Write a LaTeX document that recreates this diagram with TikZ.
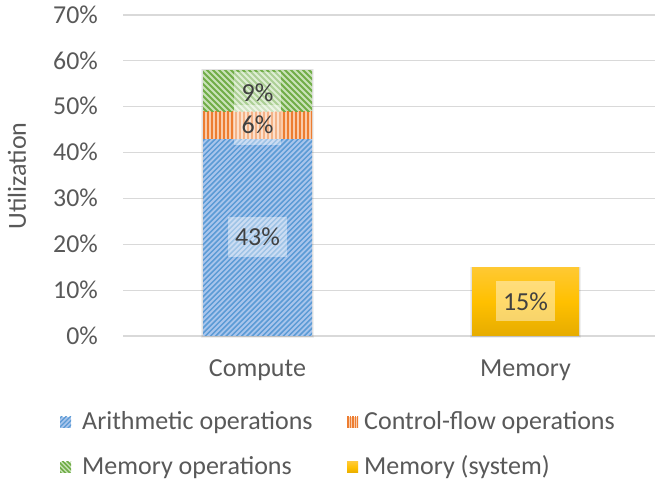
\documentclass[tikz,border=0pt]{standalone}
\usepackage{fontspec}
\setmainfont{Carlito}
\usetikzlibrary{calc}
\definecolor{gridc}{HTML}{D9D9D9}
\definecolor{txtc}{HTML}{595959}
\definecolor{lblc}{HTML}{404040}
\definecolor{bluebg}{HTML}{A9C5EC}
\definecolor{bluefg}{HTML}{5B9BD5}
\definecolor{orbg}{HTML}{F9CBAA}
\definecolor{orfg}{HTML}{ED7D31}
\definecolor{grbg}{HTML}{C9E2B8}
\definecolor{grfg}{HTML}{70AD47}
\definecolor{yeltop}{HTML}{FFC933}
\definecolor{yelmid}{HTML}{FFC000}
\definecolor{yelbot}{HTML}{E6AC00}
\tikzset{
  x=1pt, y=-1pt,
  ticklbl/.style={anchor=base east, inner sep=0pt, text=txtc, font=\fontsize{25.8}{30}\selectfont},
  catlbl/.style={anchor=base, inner sep=0pt, text=txtc, font=\fontsize{26}{30}\selectfont},
  leglbl/.style={anchor=base west, inner sep=0pt, text=txtc, font=\fontsize{26}{30}\selectfont},
  datalbl/.style={fill=white, fill opacity=0.42, text opacity=1, text=lblc, inner xsep=7.5pt, minimum height=40pt, inner ysep=0pt, font=\fontsize{26}{30}\selectfont},
  gridline/.style={draw=gridc, line width=1.2pt},
  barshadow/.style={fill=black, fill opacity=0.06},
}
\begin{document}
\begin{tikzpicture}
\useasboundingbox (0,0) rectangle (657,486);
\fill[white] (0,0) rectangle (657,486);
% grid lines
\foreach \v in {0,10,...,70} {
  \draw[gridline] (123,{336-\v*4.586}) -- (655,{336-\v*4.586});
  \node[ticklbl] (t\v) at (98,{336-\v*4.586+8.3}) {\v\%};
}
% axis title
\node[rotate=90, text=txtc, font=\fontsize{26}{30}\selectfont, inner sep=0pt] (ytitle) at (17,176) {Utilization};

% soft shadows
\fill[barshadow] (201,69) rectangle (314,338);
\fill[barshadow] (202,69.5) rectangle (313,337);
\fill[barshadow] (470,267) rectangle (581,338);
\fill[barshadow] (471,267.5) rectangle (580,337);

% Compute: arithmetic (0-43%)
\begin{scope}
  \clip (203,{336-43*4.586}) rectangle (312,336);
  \fill[bluebg] (203,{336-43*4.586}) rectangle (312,336);
  \foreach \k in {-220,-214.8,...,130}
    \draw[bluefg, line width=1.5pt] (203+\k,340) -- (203+\k+220,120);
\end{scope}
% control flow (43-49%)
\begin{scope}
  \clip (203,{336-49*4.586}) rectangle (312,{336-43*4.586});
  \fill[orbg] (203,{336-49*4.586}) rectangle (312,{336-43*4.586});
  \foreach \k in {1,5,...,112}
    \draw[orfg, line width=1.6pt] (203+\k,100) -- (203+\k,150);
\end{scope}
% memory operations (49-58%)
\begin{scope}
  \clip (203,{336-58*4.586}) rectangle (312,{336-49*4.586});
  \fill[grbg] (203,{336-58*4.586}) rectangle (312,{336-49*4.586});
  \foreach \k in {-60,-54,...,130}
    \draw[grfg, line width=2pt] (203+\k,60) -- (203+\k+60,120);
\end{scope}
% Memory (system)
\shade[top color=yeltop, bottom color=yelbot, middle color=yelmid] (472,{336-15*4.586}) rectangle (579,336);

% data labels
\node[datalbl] (l43) at (257.5,237) {43\%};
\node[datalbl] (l6) at (257.5,125) {6\%};
\node[datalbl] (l9) at (257.5,92.5) {9\%};
\node[datalbl] (l15) at (525.5,301.5) {15\%};

% category labels
\node[catlbl] (ccompute) at (257.5,377) {Compute};
\node[catlbl] (cmemory) at (525.5,377) {Memory};

% legend markers
\begin{scope}
  \clip (60,417) rectangle (71,428);
  \fill[bluebg] (60,417) rectangle (71,428);
  \foreach \k in {-12,-7.5,...,12}
    \draw[bluefg, line width=1.3pt] (60+\k,430) -- (60+\k+15,415);
\end{scope}
\begin{scope}
  \clip (347,417) rectangle (358,428);
  \fill[orbg] (347,417) rectangle (358,428);
  \foreach \k in {1,3.5,...,11}
    \draw[orfg, line width=1.1pt] (347+\k,415) -- (347+\k,430);
\end{scope}
\begin{scope}
  \clip (60,462) rectangle (71,473);
  \fill[grbg] (60,462) rectangle (71,473);
  \foreach \k in {-12,-7.5,...,12}
    \draw[grfg, line width=1.5pt] (60+\k,460) -- (60+\k+15,475);
\end{scope}
\shade[top color=yeltop, bottom color=yelbot, middle color=yelmid] (347,462) rectangle (358,473);

% legend text
\node[leglbl] (la) at (82,430) {Arithmetic operations};
\node[leglbl] (lc) at (364,430) {Control-flow operations};
\node[leglbl] (lm) at (82,475) {Memory operations};
\node[leglbl] (ls) at (364,475) {Memory (system)};
\end{tikzpicture}
\end{document}
